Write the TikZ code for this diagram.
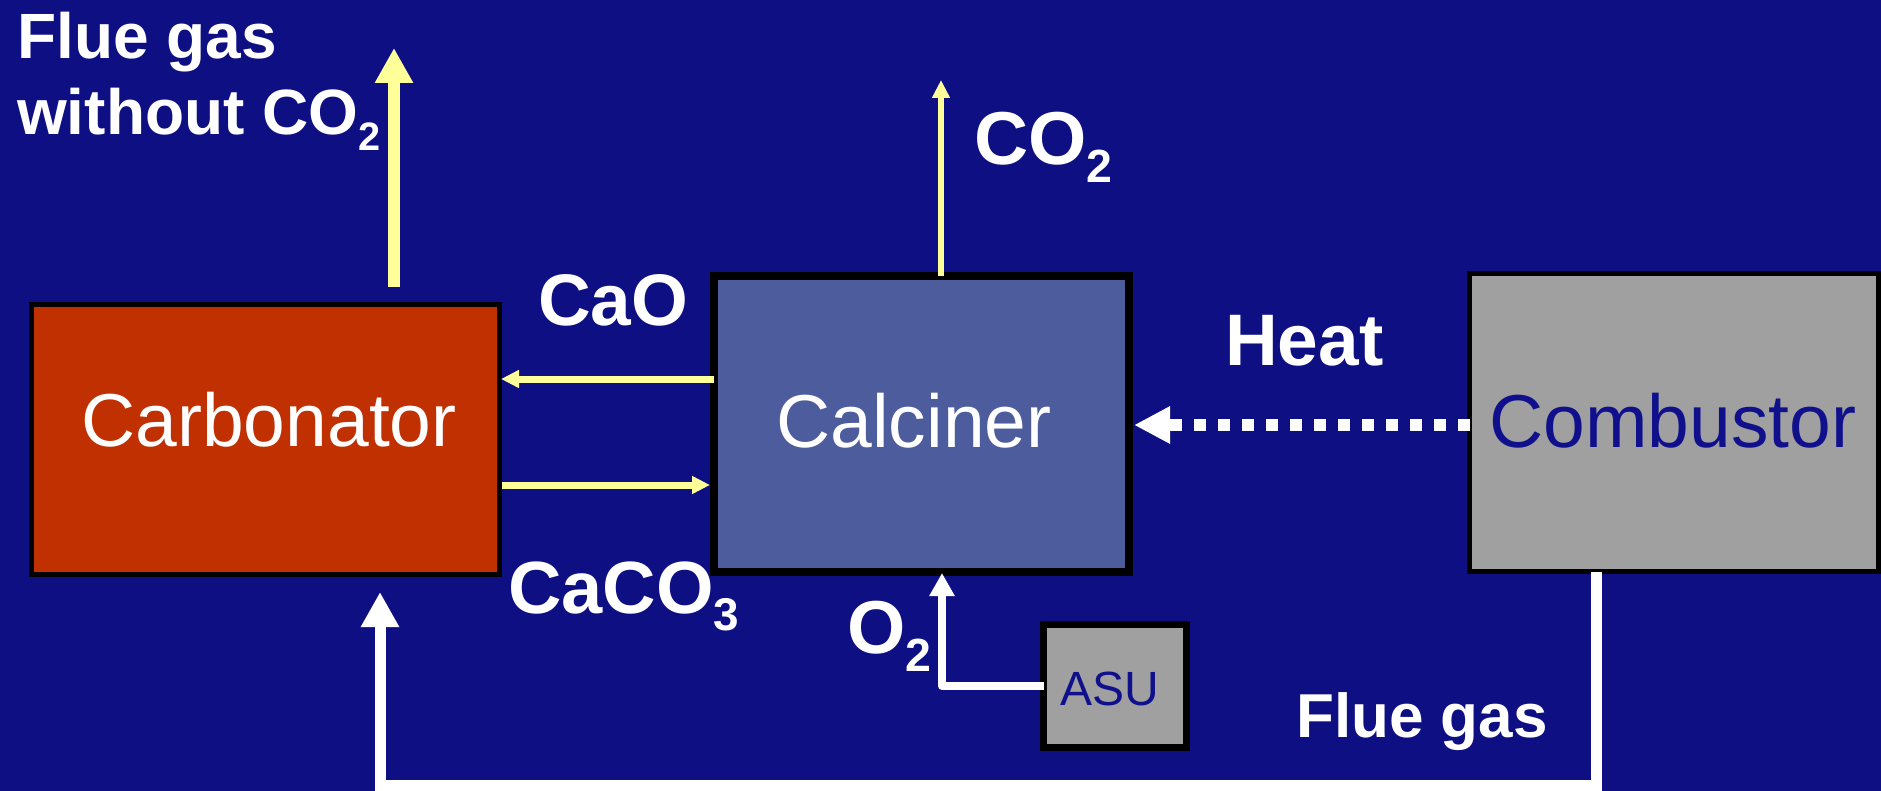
\documentclass[tikz,border=0pt]{standalone}
\usepackage{fontspec}
\setmainfont{Liberation Sans}
\usepackage{graphicx}
\usetikzlibrary{arrows.meta}
\definecolor{bg}{RGB}{13,15,130}
\definecolor{carbfill}{RGB}{192,48,0}
\definecolor{calcfill}{RGB}{76,92,156}
\definecolor{greyfill}{RGB}{160,160,160}
\definecolor{yel}{RGB}{255,255,153}
\definecolor{boxtext}{RGB}{16,16,140}
\newcommand\sbs[1]{\raisebox{-0.24em}{\scalebox{0.62}{#1}}}
\begin{document}
\begin{tikzpicture}[x=1pt,y=-1pt,
  box/.style={draw=black, inner sep=0pt, outer sep=0pt, anchor=center},
  boxlbl/.style={inner sep=0pt, anchor=base, font=\fontsize{75}{90}\selectfont},
  lbl/.style={text=white, inner sep=0pt, anchor=base west},
  yarrow/.style={draw=yel},
  warrow/.style={draw=white}]
\fill[bg] (0,0) rectangle (1881,791);
\useasboundingbox (0,0) rectangle (1881,791);

% boxes
\node[box, fill=carbfill, line width=5pt, minimum width=468pt, minimum height=270pt] (carb) at (265.5,439.5) {};
\node[box, fill=calcfill, line width=8.5pt, minimum width=415pt, minimum height=296pt] (calc) at (921.5,424) {};
\node[box, fill=greyfill, line width=5pt, minimum width=409pt, minimum height=298pt] (comb) at (1674,422.5) {};
\node[box, fill=greyfill, line width=6.5pt, minimum width=143pt, minimum height=123pt] (asu) at (1115,686) {};

\node[boxlbl, text=white] (carbt) at (269,446) {Carbonator};
\node[boxlbl, text=white] (calct) at (914,447) {Calciner};
\node[boxlbl, text=boxtext] (combt) at (1673,447) {Combustor};
\node[boxlbl, text=boxtext, font=\fontsize{48}{58}\selectfont] (asut) at (1110,705) {ASU};

% coordinates for free ends
\coordinate (fgbot) at (394,287);
\coordinate (fgtip) at (394,48);
\coordinate (co2tip) at (941,80);
\coordinate (caoy) at (0,379);
\coordinate (cacoy) at (0,485);
\coordinate (heaty) at (0,425);
\coordinate (o2top) at (942,573);
\coordinate (loopR) at (1596,785);
\coordinate (loopL) at (380,785);
\coordinate (looptip) at (380,592);

% yellow arrows
\draw[yarrow, line width=12pt, -{Triangle[length=35pt,width=36pt]}] (fgbot) -- (fgtip);
\draw[yarrow, line width=6pt, -{Triangle[length=18pt,width=17pt]}] (co2tip |- calc.north) -- (co2tip);
\draw[yarrow, line width=7pt, -{Triangle[length=18pt,width=17pt]}] (calc.west |- caoy) -- ([xshift=1.5pt]carb.east |- caoy);
\draw[yarrow, line width=7pt, -{Triangle[length=18pt,width=17pt]}] ([xshift=2.5pt]carb.east |- cacoy) -- ([xshift=-4pt]calc.west |- cacoy);

% white arrows
\draw[warrow, line width=12pt, dash pattern=on 12pt off 12pt, -{Triangle[length=36pt,width=35pt]}] (comb.west |- heaty) -- ([xshift=5pt]calc.east |- heaty);
\draw[warrow, line width=8pt, line join=round, -{Triangle[length=23pt,width=24pt]}] (asu.west) -| (o2top);
\draw[warrow, line width=11pt, -{Triangle[length=35pt,width=36pt]}] (comb.south -| loopR) -- (loopR) -- (loopL) -- (looptip);

% labels
\begin{scope}[every node/.style={font=\bfseries}]
\end{scope}
\node[lbl, font=\bfseries\fontsize{64}{76}\selectfont] (fg1) at (17,59) {Flue gas};
\node[lbl, font=\bfseries\fontsize{64}{76}\selectfont] (fg2) at (17,135) {without CO\sbs{2}};
\node[lbl, font=\bfseries\fontsize{75}{90}\selectfont] (co2l) at (974,165) {CO\sbs{2}};
\node[lbl, font=\bfseries\fontsize{73}{88}\selectfont] (caol) at (538,326) {CaO};
\node[lbl, font=\bfseries\fontsize{74}{88}\selectfont] (cacol) at (508,613) {CaCO\sbs{3}};
\node[lbl, font=\bfseries\fontsize{73}{88}\selectfont] (heatl) at (1225,366) {Heat};
\node[lbl, font=\bfseries\fontsize{75}{90}\selectfont] (o2l) at (847,653) {O\sbs{2}};
\node[lbl, font=\bfseries\fontsize{62}{74}\selectfont] (fgb) at (1296,737) {Flue gas};
\end{tikzpicture}
\end{document}
